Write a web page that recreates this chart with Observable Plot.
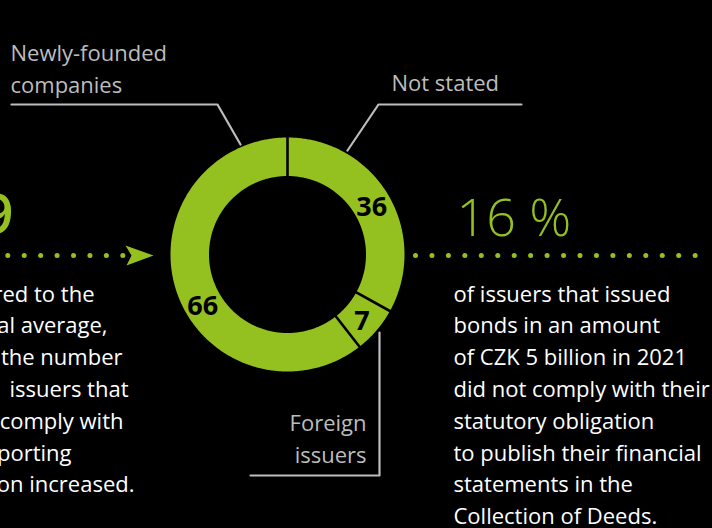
<!DOCTYPE html>
<html>
<head>
<meta charset="utf-8">
<script src="https://cdn.jsdelivr.net/npm/d3@7"></script>
<script src="https://cdn.jsdelivr.net/npm/@observablehq/plot@0.6"></script>
<style>
  html, body { margin: 0; padding: 0; background: #000; }
  #chart svg { display: block; }
</style>
</head>
<body>
<div id="chart"></div>
<script>
// ---------- data ----------
const categories = ["Not stated", "Foreign issuers", "Newly-founded companies"];
const values = [36, 7, 66];
const headline = "16 %";
const leftNumber = "9";
const leftText = ["Compared to the", "national average,", "in 2021 the number", "issuers that", "did not comply with", "the reporting", "obligation increased."];
const rightText = ["of issuers that issued", "bonds in an amount", "of CZK 5 billion in 2021", "did not comply with their", "statutory obligation", "to publish their financial", "statements in the", "Collection of Deeds."];
const labelNotStated = ["Not stated"];
const labelForeign = ["Foreign", "issuers"];
const labelNewly = ["Newly-founded", "companies"];

// ---------- layout ----------
const W = 712, H = 528;
const GREEN = "#94c11f", GREY = "#bdbdbd", FONT = "'Open Sans', sans-serif";
const cx = 287, cy = 254, rOuter = 117, rInner = 78.5;
const pt = (a, r) => [cx + r * Math.sin(a), cy - r * Math.cos(a)];

const pie = d3.pie().sort(null).value(d => d.value)(categories.map((c, i) => ({category: c, value: values[i]})));

// ring polygons
const ringPts = [];
pie.forEach((s, k) => {
  const n = Math.max(4, Math.ceil((s.endAngle - s.startAngle) / 0.01));
  for (let j = 0; j <= n; j++) { const a = s.startAngle + (s.endAngle - s.startAngle) * j / n; const [x, y] = pt(a, rOuter); ringPts.push({k, x, y}); }
  for (let j = n; j >= 0; j--) { const a = s.startAngle + (s.endAngle - s.startAngle) * j / n; const [x, y] = pt(a, rInner); ringPts.push({k, x, y}); }
});
// separators
const seps = pie.map(s => { const [x1, y1] = pt(s.startAngle, rInner - 2); const [x2, y2] = pt(s.startAngle, rOuter + 2); return {x1, y1, x2, y2}; });
// value labels at centroids
const labelShift = [0, 0, -0.19];
const valueLabels = pie.map((s, i) => { const a = (s.startAngle + s.endAngle) / 2 + labelShift[i]; const [x, y] = pt(a, (rOuter + rInner) / 2); return {x, y, t: String(s.data.value)}; });

// leader lines
const leaders = [
  {k: 0, pts: [[347, 150], [378, 104], [521, 104]]},
  {k: 1, pts: [[379, 332], [379, 475], [250, 475]]},
  {k: 2, pts: [[240, 144], [217, 104], [11, 104]]}
].flatMap(l => l.pts.map(([x, y]) => ({k: l.k, x, y})));
const lblNS = labelNotStated.map((t, j) => ({t, x: 391, y: 90 + j * 32}));
const lblFI = labelForeign.map((t, j) => ({t, x: 366, y: 430 + j * 32}));
const lblNF = labelNewly.map((t, j) => ({t, x: 10, y: 60 + j * 32}));

// dotted arrows
const dotY = 255;
const dotsL = d3.range(8).map(i => ({x: 7.3 + i * 16.43, y: dotY}));
const dotsR = d3.range(18).map(i => ({x: 415 + i * 16.45, y: dotY})).filter(d => d.x < 700);
const arrow = [[125, 245], [153, 255], [126, 265], [131, 255]].map(([x, y]) => ({x, y}));

const leftEnds = [94, 107, 122, 128, 123, 71, 134];
const bodyBase = 301, lineH = 31.8;
const leftLines = leftText.map((t, i) => ({t, x: leftEnds[i], y: bodyBase + i * lineH}));
const rightLines = rightText.map((t, i) => ({t, x: 453, y: bodyBase + i * lineH}));

const lbl = {fill: GREY, fontSize: 22, fontFamily: FONT, lineAnchor: "bottom"};
const chart = Plot.plot({
  width: W, height: H, margin: 0,
  x: {domain: [0, W], range: [0, W], axis: null},
  y: {domain: [0, H], range: [0, H], axis: null},
  style: {background: "#000", fontFamily: FONT},
  marks: [
    Plot.line(ringPts, {x: "x", y: "y", z: "k", fill: GREEN, stroke: "none", curve: "linear-closed"}),
    Plot.link(seps, {x1: "x1", y1: "y1", x2: "x2", y2: "y2", stroke: "#000", strokeWidth: 2.6}),
    Plot.text(valueLabels, {x: "x", y: "y", dy: 3, text: "t", fill: "#000", fontSize: 27, fontWeight: 700, fontFamily: FONT}),
    Plot.line(leaders, {x: "x", y: "y", z: "k", stroke: GREY, strokeWidth: 2.2}),
    Plot.text(lblNS, {x: "x", y: "y", text: "t", textAnchor: "start", ...lbl}),
    Plot.text(lblFI, {x: "x", y: "y", text: "t", textAnchor: "end", ...lbl}),
    Plot.text(lblNF, {x: "x", y: "y", text: "t", textAnchor: "start", ...lbl}),
    Plot.dot([...dotsL, ...dotsR], {x: "x", y: "y", r: 2.5, fill: GREEN, stroke: "none"}),
    Plot.line(arrow, {x: "x", y: "y", fill: GREEN, stroke: "none", curve: "linear-closed"}),
    Plot.text([headline], {x: 456, y: 235, text: d => d, textAnchor: "start", lineAnchor: "bottom", fill: GREEN, fontSize: 52, fontWeight: 300, fontFamily: FONT}),
    Plot.text([leftNumber], {x: 13, y: 233, text: d => d, textAnchor: "end", lineAnchor: "bottom", fill: GREEN, fontSize: 56, fontWeight: 600, fontFamily: FONT}),
    Plot.text(leftLines, {x: "x", y: "y", text: "t", textAnchor: "end", lineAnchor: "bottom", fill: "#fff", fontSize: 22, fontFamily: FONT}),
    Plot.text(rightLines, {x: "x", y: "y", text: "t", textAnchor: "start", lineAnchor: "bottom", fill: "#fff", fontSize: 22, fontFamily: FONT})
  ]
});
document.getElementById("chart").append(chart);
</script>
</body>
</html>
